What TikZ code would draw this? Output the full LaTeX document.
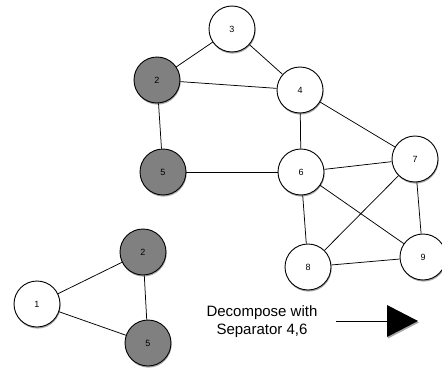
\documentclass[tikz,border=0pt]{standalone}
\usepackage{fontspec}
\setmainfont{Liberation Sans}
\usetikzlibrary{shadows}
\begin{document}
\begin{tikzpicture}[x=1pt,y=-1pt,
  vertex/.style={circle,draw=black,line width=0.9pt,minimum size=46pt,inner sep=0pt,
    font=\fontsize{9}{10}\selectfont,
    drop shadow={shadow xshift=0.6pt,shadow yshift=-1.6pt,opacity=0.35,fill=black}},
  plain/.style={vertex,fill=white},
  sep/.style={vertex,fill=black!50},
  edge/.style={draw=black,line width=0.75pt}]
\useasboundingbox (0,0) rectangle (442,372);
% upper graph
\node[plain] (n3) at (232,29) {3};
\node[sep]   (n2) at (157,80) {2};
\node[plain] (n4) at (300,90) {4};
\node[sep]   (n5) at (163,172) {5};
\node[plain] (n6) at (301,172) {6};
\node[plain] (n7) at (415,159) {7};
\node[plain] (n8) at (308,267) {8};
\node[plain] (n9) at (423,257) {9};
\draw[edge] (n3) -- (n2);
\draw[edge] (n3) -- (n4);
\draw[edge] (n2) -- (n4);
\draw[edge] (n2) -- (n5);
\draw[edge] (n5) -- (n6);
\draw[edge] (n4) -- (n6);
\draw[edge] (n4) -- (n7);
\draw[edge] (n6) -- (n7);
\draw[edge] (n6) -- (n8);
\draw[edge] (n6) -- (n9);
\draw[edge] (n7) -- (n8);
\draw[edge] (n7) -- (n9);
\draw[edge] (n8) -- (n9);
% lower graph
\node[plain] (m1) at (37,304) {1};
\node[sep]   (m2) at (143,252) {2};
\node[sep]   (m5) at (148,343) {5};
\draw[edge] (m1) -- (m2);
\draw[edge] (m1) -- (m5);
\draw[edge] (m2) -- (m5);
% caption and arrow
\node[font=\fontsize{15}{18}\selectfont,align=center] (cap) at (262,322) {Decompose with\\Separator 4,6};
\coordinate (tail) at (336,321);
\coordinate (base) at (387,321);
\draw[edge] (tail) -- (base);
\fill[black,drop shadow={shadow xshift=0.8pt,shadow yshift=-1.6pt,opacity=0.35,fill=black}]
  (387,305) -- (418,321) -- (387,337) -- cycle;
\end{tikzpicture}
\end{document}
